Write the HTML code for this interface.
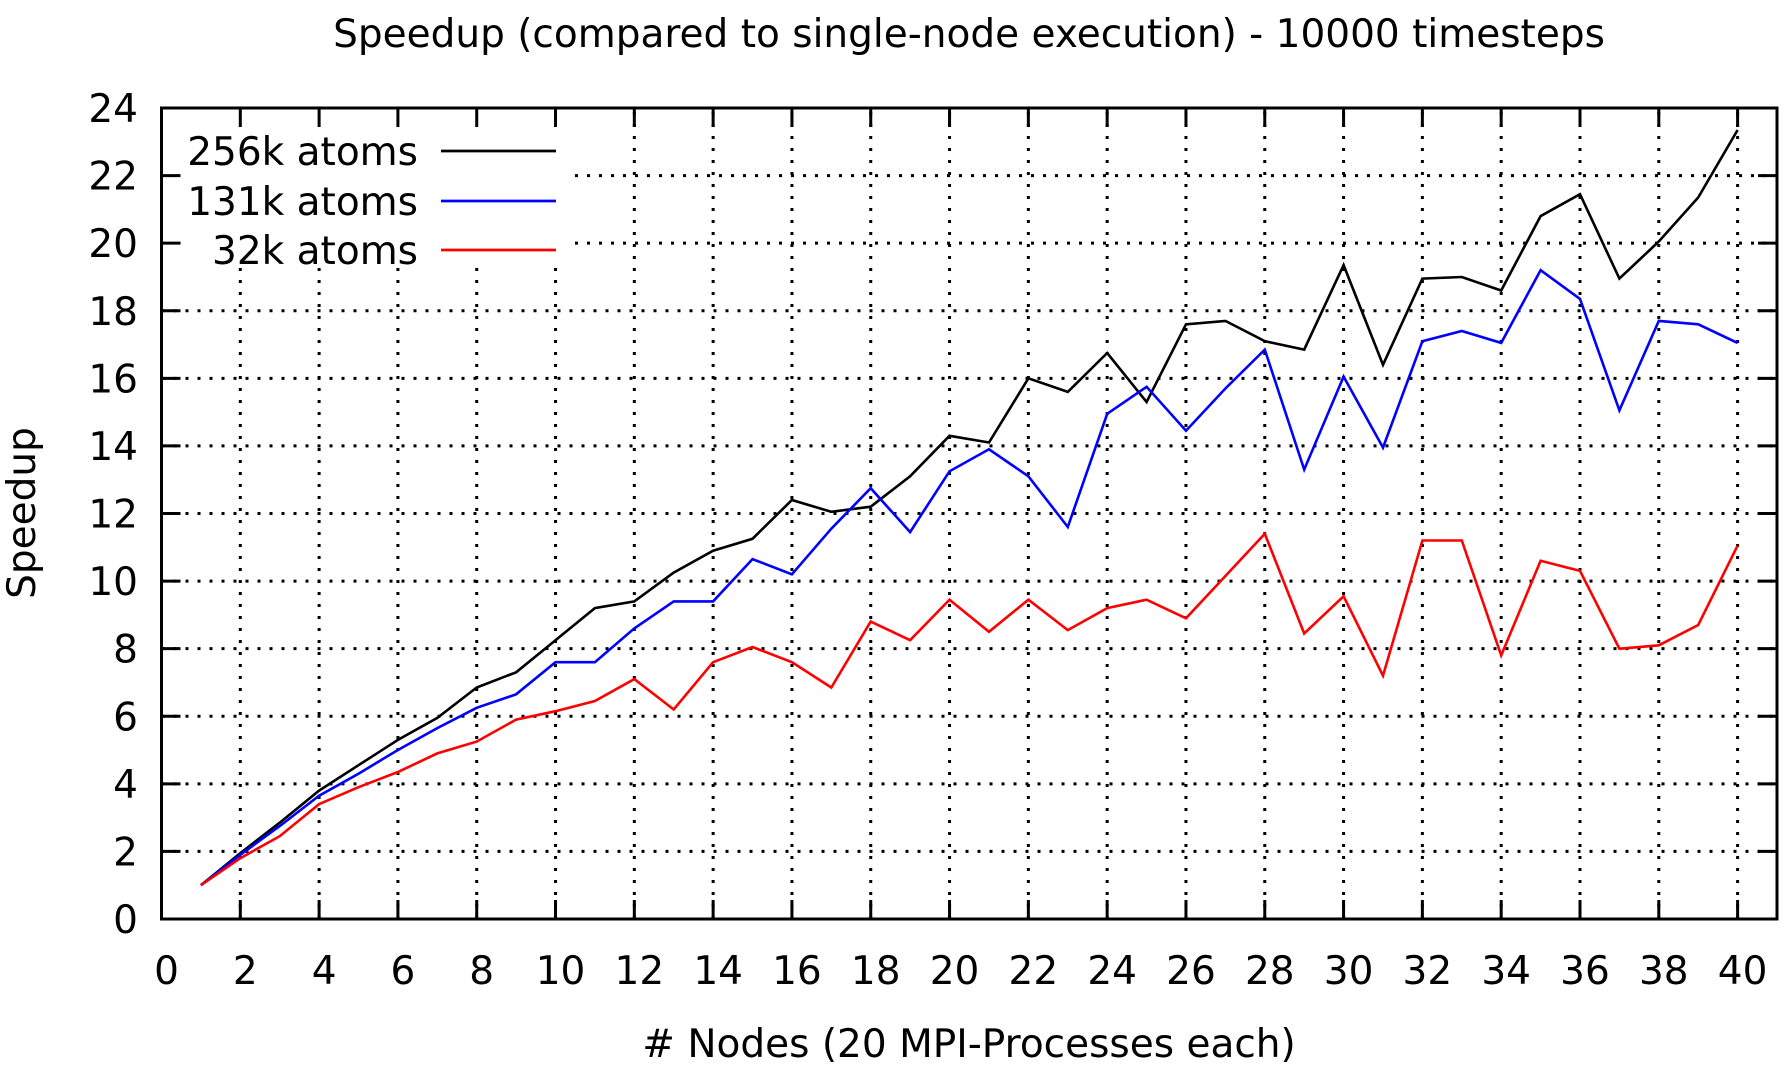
<!DOCTYPE html>
<html><head><meta charset="utf-8"><style>
html,body{margin:0;padding:0;background:#fff;}
svg{display:block;font-family:"DejaVu Sans","Liberation Sans",sans-serif;}
</style></head><body>
<svg id="chart" width="1784" height="1069" viewBox="0 0 1784 1069" xmlns="http://www.w3.org/2000/svg">
<text x="969" y="47" font-size="39" text-anchor="middle">Speedup (compared to single-node execution) - 10000 timesteps</text>
<text x="969" y="1057" font-size="39" text-anchor="middle"># Nodes (20 MPI-Processes each)</text>
<text transform="translate(35,513) rotate(-90)" font-size="39" text-anchor="middle">Speedup</text>
<g id="grid"></g>
<g id="ticks"></g>
<g id="series"></g>
<g id="legend"></g>
<rect x="161.5" y="108" width="1615.5" height="811" fill="none" stroke="#000" stroke-width="3"/>
</svg>
<script>
const nodes = [1,2,3,4,5,6,7,8,9,10,11,12,13,14,15,16,17,18,19,20,21,22,23,24,25,26,27,28,29,30,31,32,33,34,35,36,37,38,39,40];
const s256 = [1,1.95,2.85,3.8,4.55,5.3,5.95,6.85,7.3,8.25,9.2,9.4,10.25,10.9,11.25,12.4,12.05,12.2,13.1,14.3,14.1,16.0,15.6,16.75,15.3,17.6,17.7,17.1,16.85,19.35,16.4,18.95,19.0,18.6,20.8,21.45,18.95,20.05,21.35,23.35];
const s131 = [1,1.9,2.75,3.65,4.3,5.0,5.65,6.25,6.65,7.6,7.6,8.6,9.4,9.4,10.65,10.2,11.55,12.75,11.45,13.25,13.9,13.1,11.6,14.95,15.75,14.45,15.7,16.85,13.3,16.05,13.95,17.1,17.4,17.05,19.2,18.35,15.05,17.7,17.6,17.05];
const s32 = [1,1.8,2.45,3.4,3.9,4.35,4.9,5.25,5.9,6.15,6.45,7.1,6.2,7.6,8.05,7.6,6.85,8.8,8.25,9.45,8.5,9.45,8.55,9.2,9.45,8.9,10.15,11.4,8.45,9.55,7.2,11.2,11.2,7.8,10.6,10.3,8.0,8.1,8.7,11.05];
const xTicks = [0,2,4,6,8,10,12,14,16,18,20,22,24,26,28,30,32,34,36,38,40];
const yTicks = [0,2,4,6,8,10,12,14,16,18,20,22,24];
const seriesNames = ["256k atoms","131k atoms","32k atoms"];

const NS="http://www.w3.org/2000/svg";
const L=161.5,R=1777,T=108,B=919,XMAX=41,YMAX=24;
const X=v=>L+(R-L)*v/XMAX;
const Y=v=>B-(B-T)*v/YMAX;
function mk(tag,attrs,parent){const e=document.createElementNS(NS,tag);for(const k in attrs)e.setAttribute(k,attrs[k]);parent.appendChild(e);return e;}
const grid=document.getElementById('grid'),ticks=document.getElementById('ticks'),series=document.getElementById('series'),legend=document.getElementById('legend');
const dash={stroke:"#000","stroke-width":3,"stroke-dasharray":"3 9",fill:"none"};
const legX=575,legY=267;
xTicks.forEach(v=>{
  const x=X(v);
  if(v>0&&v<41){
    const top = x<legX?legY:T;
    const g=mk('line',Object.assign({x1:x,y1:B,x2:x,y2:top},dash),grid);
    
    
  }
  const t1=mk('line',{x1:x,y1:B,x2:x,y2:B-19,stroke:"#000","stroke-width":3},ticks);
  
  
  const t2=mk('line',{x1:x,y1:T,x2:x,y2:T+19,stroke:"#000","stroke-width":3},ticks);
  
  
  const lb=mk('text',{x:x+5,y:984,"font-size":39,"text-anchor":"middle"},ticks);
  lb.textContent=v;
  
  
});
yTicks.forEach(v=>{
  const y=Y(v);
  if(v>0&&v<24){
    const left = y<legY?legX:L;
    const g=mk('line',Object.assign({x1:left,y1:y,x2:R,y2:y},dash),grid);
    
    
  }
  const t1=mk('line',{x1:L,y1:y,x2:L+19,y2:y,stroke:"#000","stroke-width":3},ticks);
  
  
  const t2=mk('line',{x1:R,y1:y,x2:R-19,y2:y,stroke:"#000","stroke-width":3},ticks);
  
  
  const lb=mk('text',{x:138,y:y+14,"font-size":39,"text-anchor":"end"},ticks);
  lb.textContent=v;
  
  
});
const colors=["#000000","#0000ff","#ff0000"];
[s256,s131,s32].forEach((arr,i)=>{
  const pts=arr.map((v,j)=>X(nodes[j]).toFixed(1)+","+Y(v).toFixed(1)).join(" ");
  const p=mk('polyline',{points:pts,fill:"none",stroke:colors[i],"stroke-width":2.6,"stroke-linejoin":"miter"},series);
  
  
});
const rowsY=[151,201,250];
seriesNames.forEach((n,i)=>{
  const t=mk('text',{x:418,y:rowsY[i]+14,"font-size":39,"text-anchor":"end"},legend);
  t.textContent=n;
  
  
  const l=mk('line',{x1:441,y1:rowsY[i],x2:556,y2:rowsY[i],stroke:colors[i],"stroke-width":2.8},legend);
  
  
});
</script>
</body></html>
